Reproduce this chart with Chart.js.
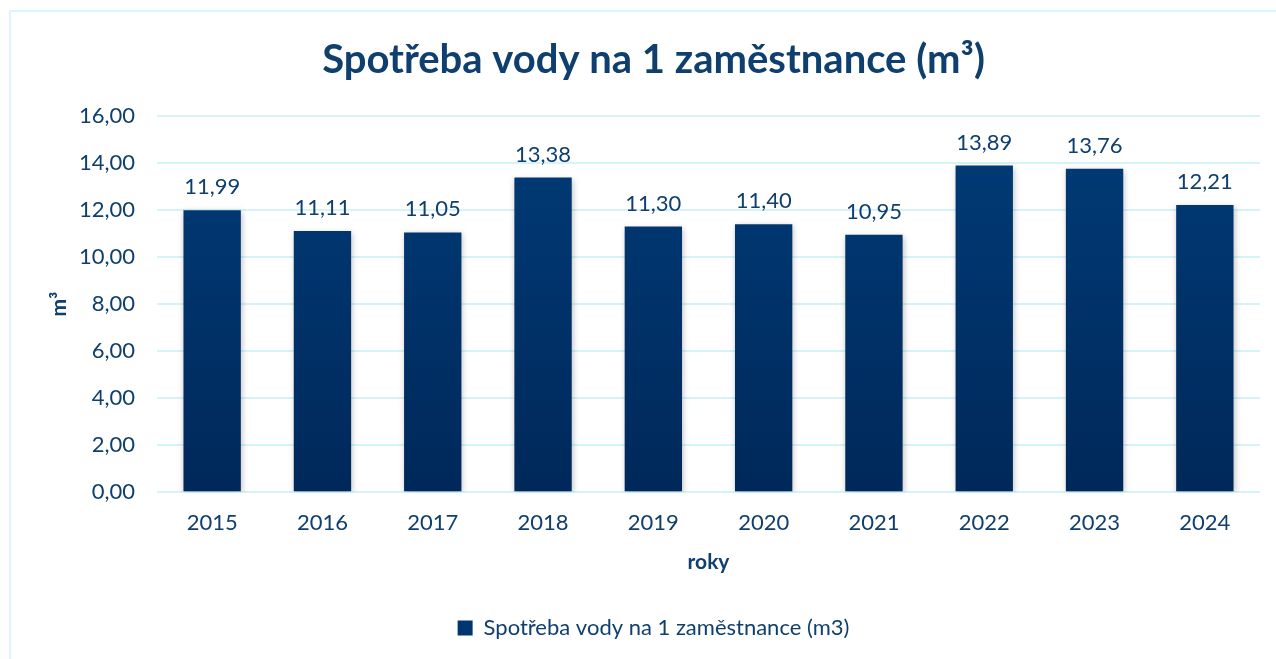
<!DOCTYPE html>
<html>
<head>
<meta charset="utf-8">
<script src="https://cdn.jsdelivr.net/npm/chart.js@4"></script>
<style>
  body { margin: 0; background: #fff; }
  .obal { position: relative; width: 1276px; height: 659px; }
  .ramecek { position: absolute; left: 9px; top: 10px; right: -4px; bottom: -4px; border: 2px solid #d8f6fc; }
  canvas { position: absolute; left: 0; top: 0; }
</style>
</head>
<body>
<div class="obal">
  <div class="ramecek"></div>
  <canvas id="graf" width="1276" height="659"></canvas>
</div>
<script>
const roky = ["2015", "2016", "2017", "2018", "2019", "2020", "2021", "2022", "2023", "2024"];
const spotreba = [11.99, 11.11, 11.05, 13.38, 11.30, 11.40, 10.95, 13.89, 13.76, 12.21];

const barvaTextu = "#0e3f6e";
const pismo = "Lato, 'Open Sans', sans-serif";

const formatCisla = (v) => v.toFixed(2).replace(".", ",");

const prechod = (context) => {
    const { chart } = context;
    const area = chart.chartArea;
    if (!area) return "#003670";
    const g = chart.ctx.createLinearGradient(0, area.top, 0, area.bottom);
    g.addColorStop(0, "#003c78");
    g.addColorStop(1, "#00285a");
    return g;
};

const popisky = {
    id: "popisky",
    beforeDatasetDraw(chart) {
        const c = chart.ctx;
        c.save();
        c.shadowColor = "rgba(0,0,0,0.25)";
        c.shadowBlur = 6;
        c.shadowOffsetX = 1;
        c.shadowOffsetY = 2;
    },
    afterDatasetDraw(chart) {
        chart.ctx.restore();
    },
    afterDatasetsDraw(chart) {
        const c = chart.ctx;
        const meta = chart.getDatasetMeta(0);
        c.save();
        c.fillStyle = barvaTextu;
        c.font = "22px " + pismo;
        c.textAlign = "center";
        c.textBaseline = "middle";
        meta.data.forEach((bar, i) => {
            c.fillText(formatCisla(spotreba[i]), bar.x, bar.y - 23);
        });
        c.restore();
    }
};

const ctx = document.getElementById("graf");

const graf = new Chart(ctx, {
    type: "bar",
    data: {
        labels: roky,
        datasets: [{
            label: "Spotřeba vody na 1 zaměstnance (m3)",
            data: spotreba,
            backgroundColor: prechod,
            borderWidth: 0,
            barPercentage: 0.52,
            categoryPercentage: 1
        }]
    },
    options: {
        responsive: false,
        animation: false,
        layout: { padding: { left: 47, right: 16, top: 0, bottom: 10 } },
        plugins: {
            title: {
                display: true,
                text: "Spotřeba vody na 1 zaměstnance (m³)",
                color: barvaTextu,
                font: { family: pismo, size: 40, weight: "bold" },
                padding: { top: 36, bottom: 32 }
            },
            legend: {
                position: "bottom",
                labels: {
                    color: barvaTextu,
                    font: { family: pismo, size: 22 },
                    boxWidth: 15,
                    boxHeight: 15,
                    padding: 10,
                    generateLabels: (chart) => [{
                        text: chart.data.datasets[0].label,
                        fillStyle: "#003670",
                        strokeStyle: "#003670",
                        lineWidth: 0,
                        fontColor: barvaTextu,
                        datasetIndex: 0
                    }]
                }
            },
            tooltip: { enabled: false }
        },
        scales: {
            x: {
                grid: { display: false, drawTicks: false },
                border: { display: false },
                ticks: { color: barvaTextu, font: { family: pismo, size: 22, lineHeight: 1 }, padding: 20 },
                title: {
                    display: true,
                    text: "roky",
                    color: barvaTextu,
                    font: { family: pismo, size: 21, weight: "bold", lineHeight: 0.8 },
                    padding: { top: 0, bottom: 36 }
                }
            },
            y: {
                min: 0,
                max: 16,
                afterFit: (scale) => { scale.width = 110; },
                grid: { color: "#d4f4fa", lineWidth: 2, drawTicks: false },
                border: { display: false },
                ticks: {
                    stepSize: 2,
                    color: barvaTextu,
                    font: { family: pismo, size: 22 },
                    padding: 22,
                    callback: (v) => formatCisla(v)
                },
                title: {
                    display: true,
                    text: "m³",
                    color: barvaTextu,
                    font: { family: pismo, size: 21, weight: "bold" },
                    padding: 0
                }
            }
        }
    },
    plugins: [popisky]
});
</script>
</body>
</html>
